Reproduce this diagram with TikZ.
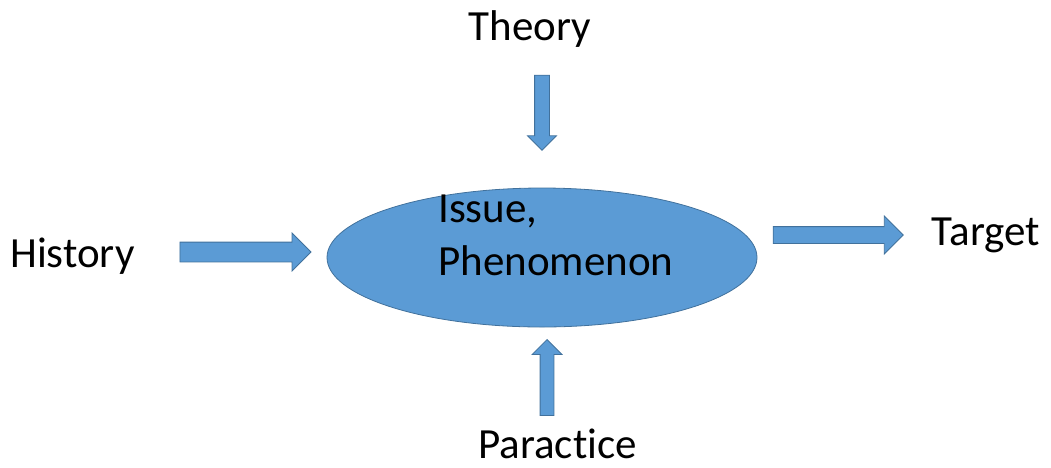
\documentclass[tikz,border=0pt]{standalone}
\usepackage{fontspec}
\setmainfont{Carlito}[Ligatures={NoCommon,NoContextual}]
\usetikzlibrary{shapes.geometric, shapes.arrows, positioning}
\definecolor{cFill}{RGB}{91,155,213}
\definecolor{cEdge}{RGB}{65,113,156}
\tikzset{
	blob/.style     ={ellipse, draw=cEdge, fill=cFill, line width=0.8pt, minimum width=430pt, minimum height=139pt, inner sep=0pt},
	blockarrow/.style={single arrow, draw=cEdge, fill=cFill, line width=0.8pt, outer sep=0pt},
	lbl/.style      ={anchor=base, inner sep=0pt, font=\fontsize{43}{53}\selectfont},
}
\begin{document}
\begin{tikzpicture}[x=1pt, y=-1pt]
	\useasboundingbox (0,0) rectangle (1051,467);
	\node[blob] (issue) at (542,257.5) {};
	\node[lbl, anchor=base west, align=left] (issuetxt) at (438,275) {Issue,\\Phenomenon};
	\node[lbl] (theory) at (530,40) {Theory};
	\node[lbl] (history) at (72.5,267) {History};
	\node[lbl] (target) at (986,245) {Target};
	\node[lbl] (practice) at (557.5,458) {Paractice};
	% block arrows
	\node[blockarrow, rotate=-90, minimum height=75pt, minimum width=28pt, inner sep=7pt, single arrow head extend=7pt] (fromtheory) at (542,109) {};
	\node[blockarrow, minimum height=131pt, minimum width=37pt, inner sep=9.5pt, single arrow head extend=9pt] (fromhistory) at (240.5,252) {};
	\node[blockarrow, minimum height=130pt, minimum width=37pt, inner sep=8pt, single arrow head extend=10.5pt] (totarget) at (834,235) {};
	\node[blockarrow, rotate=90, minimum height=76pt, minimum width=29pt, inner sep=6.5pt, single arrow head extend=8pt] (frompractice) at (547,381) {};
\end{tikzpicture}
\end{document}
